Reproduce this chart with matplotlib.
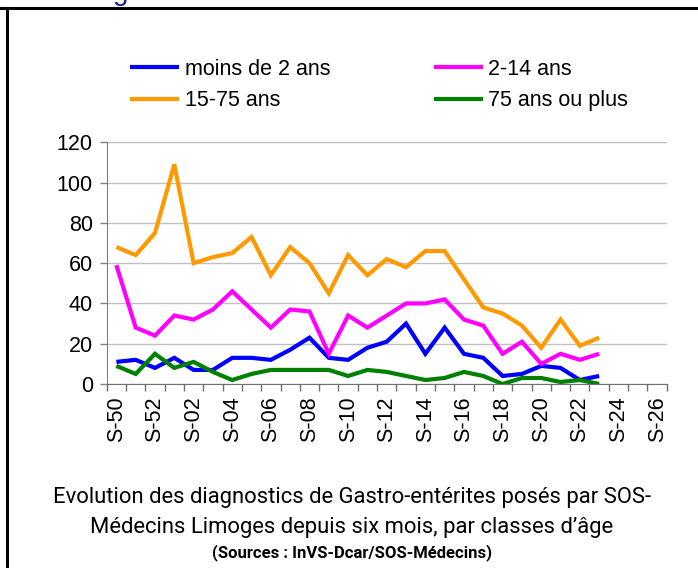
import numpy as np
import matplotlib.pyplot as plt
from matplotlib.ticker import MultipleLocator, FixedLocator

# weeks S-50 .. S-52, then S-01 .. S-26
weeks = ["S-50", "S-51", "S-52"] + ["S-%02d" % w for w in range(1, 27)]

moins_2 = [11, 12, 8, 13, 7, 7, 13, 13, 12, 17, 23, 13, 12, 18,
           21, 30, 15, 28, 15, 13, 4, 5, 9, 8, 2, 4]
ans_2_14 = [59, 28, 24, 34, 32, 37, 46, 37, 28, 37, 36, 15, 34, 28,
            34, 40, 40, 42, 32, 29, 15, 21, 10, 15, 12, 15]
ans_15_75 = [68, 64, 75, 109, 60, 63, 65, 73, 54, 68, 60, 45, 64, 54,
             62, 58, 66, 66, 52, 38, 35, 29, 18, 32, 19, 23]
ans_75 = [9, 5, 15, 8, 11, 6, 2, 5, 7, 7, 7, 7, 4, 7,
          6, 4, 2, 3, 6, 4, 0, 3, 3, 1, 2, 0]

series = [("moins de 2 ans", moins_2, "#0000ff"),
          ("2-14 ans", ans_2_14, "#ff00ff"),
          ("15-75 ans", ans_15_75, "#ff9900"),
          ("75 ans ou plus", ans_75, "#008000")]

plt.rcParams['font.family'] = ['Liberation Sans', 'DejaVu Sans']

fig = plt.figure(figsize=(6.98, 5.68), dpi=100)
ax = fig.add_axes([0.1529, 0.3239, 0.8023, 0.4256])

x = np.arange(len(weeks))
lines = []
for name, vals, col in series:
    l, = ax.plot(x[:len(vals)], vals, color=col, lw=3, label=name,
                 solid_joinstyle='miter', solid_capstyle='butt')
    lines.append(l)

ax.set_xlim(-0.5, len(weeks) - 0.5)
ax.set_ylim(0, 120)
ax.yaxis.set_major_locator(MultipleLocator(20))
ax.grid(axis='y', color='#c0c0c0', lw=1)
ax.set_axisbelow(True)

ax.set_xticks(x[::2])
ax.set_xticklabels(weeks[::2], rotation=90, fontsize=15.5)
ax.xaxis.set_minor_locator(FixedLocator(np.arange(-0.5, len(weeks), 1)))
ax.tick_params(axis='x', which='major', length=0, pad=9)
ax.tick_params(axis='x', which='minor', length=5, width=1, color='#707070')
ax.tick_params(axis='y', length=5, width=1, color='#808080', labelsize=15.5, pad=5)

for s in ['top', 'right']:
    ax.spines[s].set_visible(False)
ax.spines['left'].set_color('#808080')
ax.spines['bottom'].set_color('#707070')

# legend, ordered in two columns like the original
fig.legend([lines[0], lines[2], lines[1], lines[3]],
           ["moins de 2 ans", "15-75 ans", "2-14 ans", "75 ans ou plus"],
           ncol=2, loc='upper left', bbox_to_anchor=(0.186, 0.897),
           frameon=False, fontsize=15.5, handlelength=2.3, handletextpad=0.25,
           columnspacing=4.8, labelspacing=0.5, borderpad=0, borderaxespad=0)

# caption
cap = ['Roboto', 'DejaVu Sans']
fig.text(0.504, 1 - 497 / 568, "Evolution des diagnostics de Gastro-entérites posés par SOS-",
         ha='center', va='center', fontsize=15.8, family=cap)
fig.text(0.504, 1 - 527 / 568, "Médecins Limoges depuis six mois, par classes d\u2019âge",
         ha='center', va='center', fontsize=15.8, family=cap)
fig.text(0.504, 1 - 553 / 568, "(Sources : InVS-Dcar/SOS-Médecins)",
         ha='center', va='center', fontsize=12, fontweight='bold', family=cap)

# frame lines and cut-off heading above
fig.add_artist(plt.Line2D([0, 1], [1 - 8 / 568] * 2, color='black', lw=2.2))
fig.add_artist(plt.Line2D([6.5 / 698] * 2, [0, 1 - 8 / 568], color='black', lw=2.2))
fig.text(0.173, 1 - 0.5 / 568, "g", color='#1a1a8c', fontsize=20, ha='center', va='baseline')

fig.savefig("out.png", dpi=100)
